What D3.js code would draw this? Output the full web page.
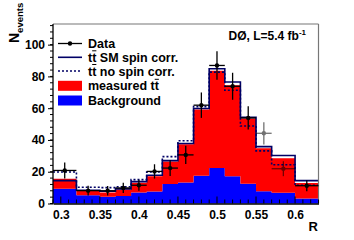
<!DOCTYPE html>
<html><head><meta charset="utf-8">
<script src="https://cdn.jsdelivr.net/npm/d3@7"></script>
<style>body{margin:0;background:#fff}svg{display:block}text{font-family:"Liberation Sans",Arial,sans-serif;font-weight:bold}</style>
</head><body>
<script>
// ---- data ----
const binEdges = [0.29,0.32,0.35,0.37,0.39,0.41,0.43,0.45,0.47,0.49,0.51,0.53,0.55,0.57,0.60,0.63];
const background = [9.3,5.2,4.2,4.8,7.0,7.5,12.2,13.2,17.5,22.3,17.1,12.5,7.7,6.7,3.1];
const measuredTT = [6.3,2.9,2.8,4.0,6.0,9.7,14.3,24.1,41.7,61.2,57.3,41.0,27.1,21.8,9.8];
const smSpinCorr = [14.4,8.3,7.7,9.2,13.8,17.8,27.0,37.8,59.8,84.8,76.5,54.2,35.8,30.2,14.4];
const noSpinCorr = [19.8,10.2,10.0,10.5,15.0,19.8,29.5,39.5,61.0,82.7,71.3,48.8,33.1,24.4,11.5];
const dataValues = [20.8,8.1,8.0,9.8,11.5,20.2,22.3,30.6,61.9,86.9,73.8,53.9,44.2,21.9,11.2];
const dataErrors = [5.0,3.0,3.0,3.2,3.5,4.5,5.0,5.7,8.0,9.0,8.5,7.3,7.0,4.7,3.5];
const xTickLabels = [0.3,0.35,0.4,0.45,0.5,0.55,0.6];
const yTickLabels = [0,20,40,60,80,100];
const legendLabels = ["Data","tt SM spin corr.","tt no spin corr.","measured tt","Background"];

const W=354,H=240;
const svg=d3.select("body").append("svg").attr("width",W).attr("height",H);
const x=d3.scaleLinear().domain([0.29,0.63]).range([53,318.5]);
const y=d3.scaleLinear().domain([0,113]).range([203.5,24]);
const RED="#ff0000",BLUE="#0000ff",NAVY="#000066";

const bins=binEdges.slice(0,-1).map((e,i)=>({i,x0:e,x1:binEdges[i+1]}));
const stepPts=v=>bins.map(b=>[b.x0,v[b.i]]).concat([[binEdges[binEdges.length-1],v[v.length-1]]]);

// stacked fills
const stackData=bins.map(b=>({bkg:background[b.i],tt:measuredTT[b.i]}));
const stacked=d3.stack().keys(["bkg","tt"])(stackData);
const area=d3.area().curve(d3.curveStepAfter).x(d=>x(d.e)).y0(d=>y(d.v0)).y1(d=>y(d.v1));
const colors={bkg:BLUE,tt:RED};
stacked.forEach(s=>{
  const pts=s.map((d,i)=>({e:binEdges[i],v0:d[0],v1:d[1]}));
  const last=s[s.length-1];
  pts.push({e:binEdges[binEdges.length-1],v0:last[0],v1:last[1]});
  svg.append("path").attr("d",area(pts)).attr("fill",colors[s.key]);
});

const line=d3.line().curve(d3.curveStepAfter).x(d=>x(d[0])).y(d=>y(d[1]));
svg.append("path").attr("d",line(stepPts(noSpinCorr))).attr("fill","none").attr("stroke",NAVY).attr("stroke-width",1.6).attr("stroke-dasharray","2,2");
svg.append("path").attr("d",line(stepPts(smSpinCorr))).attr("fill","none").attr("stroke",NAVY).attr("stroke-width",1.6);

// frame
svg.append("line").attr("x1",x.range()[0]).attr("x2",x.range()[1]).attr("y1",y(113)).attr("y2",y(113)).attr("stroke","#777").attr("stroke-width",1.2);
svg.append("line").attr("x1",x.range()[1]).attr("x2",x.range()[1]).attr("y1",y(113)).attr("y2",y(0)).attr("stroke","#777").attr("stroke-width",1.2);

// data points
const gd=svg.append("g");
bins.forEach(b=>{
  const cx=x((b.x0+b.x1)/2), cy=y(dataValues[b.i]);
  const faded=(b.i===12||b.i===13);
  const g=gd.append("g").attr("opacity",faded?0.55:1);
  g.append("line").attr("x1",x(b.x0)).attr("x2",x(b.x1)).attr("y1",cy).attr("y2",cy).attr("stroke","#000").attr("stroke-width",1.3);
  g.append("line").attr("x1",cx).attr("x2",cx).attr("y1",y(dataValues[b.i]-dataErrors[b.i])).attr("y2",y(dataValues[b.i]+dataErrors[b.i])).attr("stroke","#000").attr("stroke-width",1.3);
  g.append("circle").attr("cx",cx).attr("cy",cy).attr("r",2.2).attr("fill","#000");
});

// axes
const xAxis=d3.axisBottom(x).tickValues(xTickLabels).tickSize(0).tickPadding(6).tickFormat(d3.format(""));
const gx=svg.append("g").attr("transform",`translate(0,${y(0)})`).call(xAxis);
gx.select(".domain").attr("stroke","#000").attr("stroke-width",1.3);
gx.selectAll("text").attr("font-size",12).attr("fill","#000").attr("dy","0.75em");
const xMinor=d3.range(29,64).map(v=>v/100);
svg.append("g").selectAll("line").data(xMinor).join("line")
  .attr("x1",d=>x(d)).attr("x2",d=>x(d)).attr("y1",y(0))
  .attr("y2",d=>y(0)-(xTickLabels.some(t=>Math.abs(t-d)<1e-6)?7:4)).attr("stroke","#000").attr("stroke-width",1);

const yAxis=d3.axisLeft(y).tickValues(yTickLabels).tickSize(5).tickPadding(3);
const gy=svg.append("g").attr("transform",`translate(${x.range()[0]},0)`).call(yAxis);
gy.select(".domain").attr("stroke","#000").attr("stroke-width",1.3).attr("d",`M0,${y(0)}V${y(113)}`);
gy.selectAll("text").attr("font-size",12).attr("fill","#000");
gy.selectAll(".tick line").attr("stroke","#000");
const yMinor=d3.range(0,113,4);
svg.append("g").selectAll("line").data(yMinor).join("line")
  .attr("x1",x.range()[0]).attr("x2",x.range()[0]-3).attr("y1",d=>y(d)).attr("y2",d=>y(d)).attr("stroke","#000");

// axis titles
svg.append("text").attr("x",318).attr("y",231).attr("text-anchor","end").attr("font-size",13).text("R");
const yt=svg.append("text").attr("transform","translate(19,43) rotate(-90)").attr("font-size",14);
yt.append("tspan").text("N");
yt.append("tspan").attr("font-size",9.5).attr("dy",4).text("events");

// title
const tt=svg.append("text").attr("x",306).attr("y",40).attr("text-anchor","end").attr("font-size",12);
tt.append("tspan").text("DØ, L=5.4 fb");
tt.append("tspan").attr("font-size",8).attr("dy",-5).text("-1");

// legend
const lx0=58,lx1=82,tx=88,rowY=[43.5,57.3,71,85.8,100.5];
const lg=svg.append("g");
lg.append("line").attr("x1",lx0).attr("x2",lx1).attr("y1",rowY[0]).attr("y2",rowY[0]).attr("stroke","#000").attr("stroke-width",1.3);
lg.append("circle").attr("cx",(lx0+lx1)/2).attr("cy",rowY[0]).attr("r",2.2);
lg.append("line").attr("x1",lx0).attr("x2",lx1).attr("y1",rowY[1]).attr("y2",rowY[1]).attr("stroke",NAVY).attr("stroke-width",1.6);
lg.append("line").attr("x1",lx0).attr("x2",lx1).attr("y1",rowY[2]).attr("y2",rowY[2]).attr("stroke",NAVY).attr("stroke-width",1.6).attr("stroke-dasharray","2,2");
lg.append("rect").attr("x",lx0).attr("y",rowY[3]-5).attr("width",lx1-lx0).attr("height",10).attr("fill",RED);
lg.append("rect").attr("x",lx0).attr("y",rowY[4]-5).attr("width",lx1-lx0).attr("height",10).attr("fill",BLUE);
legendLabels.forEach((t,i)=>{
  const te=lg.append("text").attr("x",tx).attr("y",rowY[i]+4.5).attr("font-size",12.5).text(t);
  // overbar on the second "t" of "tt"
  const idx=t.indexOf("tt");
  if(idx>=0){
    const node=te.node();
    const sx=tx+node.getSubStringLength(0,idx+1);
    const w=node.getSubStringLength(idx+1,1);
    lg.append("line").attr("x1",sx).attr("x2",sx+w).attr("y1",rowY[i]-6.5).attr("y2",rowY[i]-6.5).attr("stroke","#000").attr("stroke-width",1);
  }
});
</script>
</body></html>
